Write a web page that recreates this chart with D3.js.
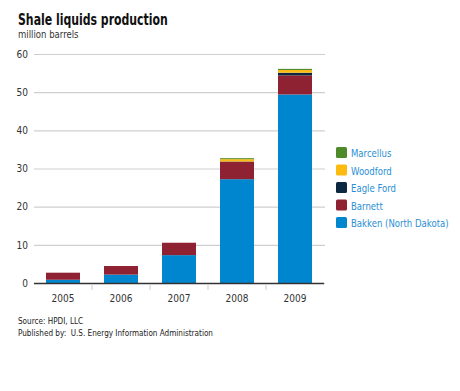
<!DOCTYPE html>
<html><head><meta charset="utf-8">
<script src="https://cdn.jsdelivr.net/npm/d3@7"></script>
<style>
body{margin:0;background:#fff;}
svg text{font-family:"DejaVu Sans Condensed","DejaVu Sans",sans-serif;}
</style></head>
<body><svg id="c" width="460" height="391"></svg>
<script>
const years = ["2005","2006","2007","2008","2009"];
const bakken    = [0.85, 2.2, 7.3, 27.2, 49.4];
const barnett   = [1.85, 2.25, 3.25, 4.6, 5.0];
const eagleFord = [0, 0, 0, 0.05, 0.7];
const woodford  = [0, 0, 0, 0.6, 0.7];
const marcellus = [0, 0, 0, 0.25, 0.3];
const seriesNames = ["Bakken (North Dakota)","Barnett","Eagle Ford","Woodford","Marcellus"];
const seriesColors = ["#0086cf","#8e2232","#0c2740","#fdbb12","#4f8a2a"];
const yTicks = [0,10,20,30,40,50,60];

const svg = d3.select("#c");
const x = d3.scaleBand().domain(years).range([34,324]).paddingInner(0.414).paddingOuter(0.207);
const y = d3.scaleLinear().domain([0,60]).range([283,54]);

const table = years.map((yr,i)=>({year:yr,
  "Bakken (North Dakota)":bakken[i],"Barnett":barnett[i],"Eagle Ford":eagleFord[i],
  "Woodford":woodford[i],"Marcellus":marcellus[i]}));
const stack = d3.stack().keys(seriesNames)(table);
const color = d3.scaleOrdinal().domain(seriesNames).range(seriesColors);

function sText(px,py,sx,str,size,fill,weight){
  const g = svg.append("g").attr("transform",`translate(${px},${py}) scale(${sx},1)`);
  const t = g.append("text").attr("font-size",size).attr("fill",fill).attr("xml:space","preserve").text(str);
  if(weight) t.attr("font-weight",weight);
  return t;
}

// title
sText(18,25,0.81,"Shale liquids production",15,"#111","bold");
sText(18,38,0.95,"million barrels",10,"#333");

// gridlines
const yAxis = d3.axisLeft(y).tickValues(yTicks).tickSize(-291).tickPadding(6);
const gy = svg.append("g").attr("transform","translate(34,0)").call(yAxis);
gy.select(".domain").remove();
gy.selectAll(".tick line").attr("stroke","#cfcfcf").attr("stroke-width",1.2);
gy.selectAll(".tick text").attr("font-size",10).attr("fill","#333").attr("font-family","DejaVu Sans Condensed");

// bars
svg.append("g").selectAll("g").data(stack).join("g").attr("fill",d=>color(d.key))
  .selectAll("rect").data(d=>d).join("rect")
  .attr("x",d=>x(d.data.year)).attr("width",x.bandwidth())
  .attr("y",d=>y(d[1])).attr("height",d=>Math.max(0,y(d[0])-y(d[1])));

// x axis
const xAxis = d3.axisBottom(x).tickSize(0).tickPadding(12);
const gx = svg.append("g").attr("transform","translate(0,283)").call(xAxis);
gx.select(".domain").remove();
gx.selectAll(".tick text").attr("font-size",10).attr("fill","#333").attr("font-family","DejaVu Sans Condensed");
svg.append("line").attr("x1",34).attr("x2",324).attr("y1",283.5).attr("y2",283.5).attr("stroke","#333").attr("stroke-width",1.5);
// separators
const bounds = years.slice(1).map(yr=>x(yr)-x.step()*x.paddingInner()/2);
svg.append("g").selectAll("line").data(bounds).join("line")
  .attr("x1",d=>d).attr("x2",d=>d).attr("y1",284).attr("y2",290).attr("stroke","#ccc");

// legend
const legendOrder = ["Marcellus","Woodford","Eagle Ford","Barnett","Bakken (North Dakota)"];
const lg = svg.append("g").selectAll("g").data(legendOrder).join("g")
  .attr("transform",(d,i)=>`translate(336,${147+i*17.5})`);
lg.append("rect").attr("width",11).attr("height",11).attr("rx",1.5).attr("fill",d=>color(d));
lg.append("g").attr("transform","translate(15,10) scale(0.865,1)")
  .append("text").attr("font-size",11).attr("fill","#2a8fd4").text(d=>d);

// source
sText(18,324,0.9,"Source: HPDI, LLC",9,"#222");
sText(18,335.5,0.9,"Published by:  U.S. Energy Information Administration",9,"#222");
</script></body></html>
